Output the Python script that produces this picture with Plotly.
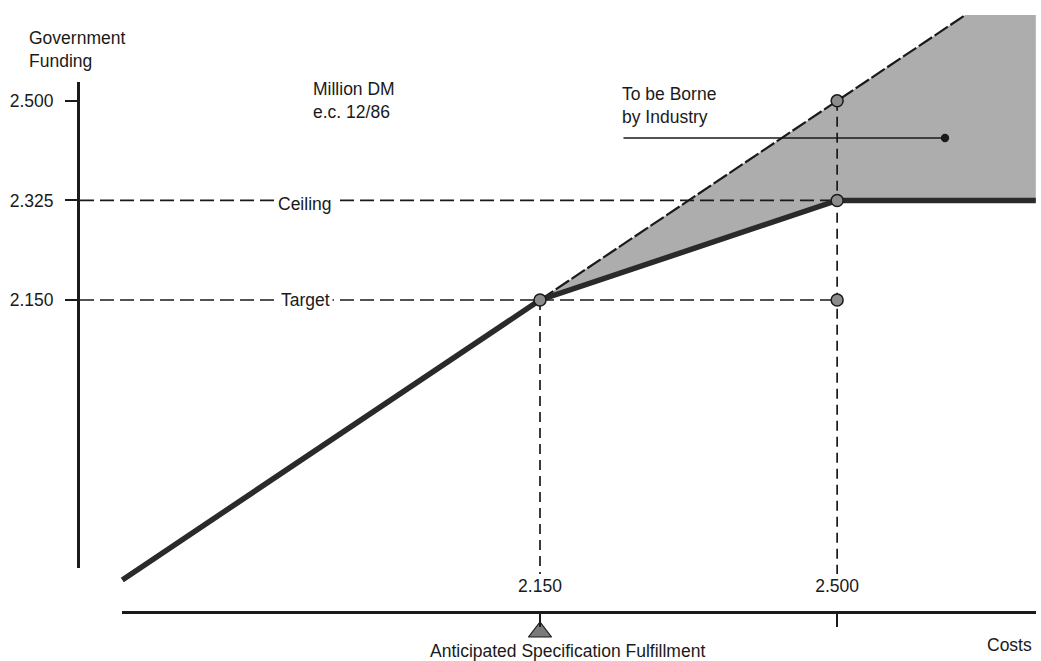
import plotly.graph_objects as go

W, H = 1041, 661

# ---- data (Million DM) ----
funding_cost = [1.658, 2.150, 2.500, 2.734]   # costs along government funding line
funding_gov = [1.658, 2.150, 2.325, 2.325]    # government funding
full_cost_x = [2.150, 2.651, 2.734]           # costs = funding diagonal (upper edge)
full_cost_y = [2.150, 2.651, 2.651]
target = 2.150
ceiling = 2.325
overrun = 2.500
point_costs = [2.150, 2.500, 2.500, 2.500]
point_funds = [2.150, 2.500, 2.325, 2.150]
y_tick_vals = [2.150, 2.325, 2.500]
y_tick_text = ["2.150", "2.325", "2.500"]
x_tick_vals = [2.150, 2.500]
x_tick_text = ["2.150", "2.500"]

# ---- pixel <-> data mapping (layout helpers) ----
X0PX, XSCALE = 540, 849
Y0PX, YSCALE = 300, 569
def X(px): return target + (px - X0PX) / XSCALE
def Y(py): return target + (Y0PX - py) / YSCALE

INK = "#1a1a1a"
FONT = "Liberation Sans, Arial, Helvetica, sans-serif"
FS = 17.5

fig = go.Figure()

# shaded area: to be borne by industry
shade_x = full_cost_x + funding_cost[:0:-1]
shade_y = full_cost_y + funding_gov[:0:-1]
fig.add_trace(go.Scatter(x=shade_x, y=shade_y, fill="toself", mode="lines",
                         fillcolor="#adadad", line=dict(width=0),
                         hoverinfo="skip", showlegend=False))
# upper edge (costs line)
fig.add_trace(go.Scatter(x=full_cost_x[:2], y=full_cost_y[:2], mode="lines",
                         line=dict(color=INK, width=2.2, dash="16px,3px"),
                         hoverinfo="skip", showlegend=False))

# dashed reference lines
dash_h = dict(color=INK, width=1.7, dash="14px,6px")
dash_v = dict(color=INK, width=1.7, dash="10px,6px")
for yv in [ceiling, target]:
    fig.add_trace(go.Scatter(x=[X(80), overrun], y=[yv, yv], mode="lines",
                             line=dash_h, hoverinfo="skip", showlegend=False))
fig.add_trace(go.Scatter(x=[target, target], y=[target, Y(574)], mode="lines",
                         line=dash_v, hoverinfo="skip", showlegend=False))
fig.add_trace(go.Scatter(x=[overrun, overrun], y=[overrun, Y(574)], mode="lines",
                         line=dash_v, hoverinfo="skip", showlegend=False))

# government funding line
fig.add_trace(go.Scatter(x=funding_cost, y=funding_gov, mode="lines",
                         line=dict(color="#2a2a2a", width=5.5),
                         hoverinfo="skip", showlegend=False))

# points
fig.add_trace(go.Scatter(x=point_costs, y=point_funds, mode="markers",
                         marker=dict(size=12, color="#8c8c8c",
                                     line=dict(color=INK, width=1.5)),
                         hoverinfo="skip", showlegend=False))

# anticipated specification fulfillment arrow
fig.add_trace(go.Scatter(x=[target], y=[Y(632)], mode="markers",
                         marker=dict(symbol="triangle-up", size=20, color="#7a7a7a",
                                     line=dict(color=INK, width=1.2)),
                         hoverinfo="skip", showlegend=False))

# dummy invisible trace to activate the display axes
fig.add_trace(go.Scatter(x=[target], y=[target], xaxis="x2", yaxis="y2",
                         mode="markers", marker=dict(opacity=0),
                         hoverinfo="skip", showlegend=False))

ann = []
def label(text, px, py, xanchor="left", yanchor="middle", bg=None, size=FS):
    d = dict(text=text, x=px / W, y=1 - py / H, xref="paper", yref="paper",
             xanchor=xanchor, yanchor=yanchor, showarrow=False, align="left",
             font=dict(family=FONT, size=size, color=INK))
    if bg:
        d.update(bgcolor=bg, borderpad=2)
    ann.append(d)

label("Government<br>Funding", 27, 49)
label("Million DM<br>e.c. 12/86", 311, 100)
label("To be Borne<br>by Industry", 620, 105)
label("Costs", 1034, 645, xanchor="right")
label("Anticipated Specification Fulfillment", 428, 651)
label("Ceiling", 305, 204, xanchor="center", bg="white")
label("Target", 305, 300, xanchor="center", bg="white")

ann.append(dict(x=X(945), y=Y(138), ax=X(622), ay=Y(138), xref="x", yref="y",
                axref="x", ayref="y", text="", showarrow=True, arrowhead=6,
                arrowsize=1.3, arrowwidth=1.6, arrowcolor=INK, standoff=0))

fig.update_layout(
    width=W, height=H,
    margin=dict(l=0, r=0, t=0, b=0),
    paper_bgcolor="white", plot_bgcolor="rgba(0,0,0,0)",
    showlegend=False,
    annotations=ann,
    font=dict(family=FONT, size=FS, color=INK),
    xaxis=dict(domain=[0, 1], range=[X(0), X(W)], visible=False, fixedrange=True),
    yaxis=dict(domain=[0, 1], range=[Y(H), Y(0)], visible=False, fixedrange=True),
    xaxis2=dict(domain=[122 / W, 1036 / W], range=[X(122), X(1036)],
                anchor="free", position=(H - 612) / H, side="top",
                showline=True, linecolor=INK, linewidth=3,
                showgrid=False, zeroline=False,
                tickmode="array", tickvals=x_tick_vals, ticktext=x_tick_text,
                ticks="inside", ticklen=13, tickwidth=1.6, tickcolor=INK,
                ticklabelstandoff=12,
                tickfont=dict(family=FONT, size=FS, color=INK)),
    yaxis2=dict(domain=[(H - 568) / H, (H - 82) / H], range=[Y(568), Y(82)],
                anchor="free", position=78 / W, side="left",
                showline=True, linecolor=INK, linewidth=3,
                showgrid=False, zeroline=False,
                tickmode="array", tickvals=y_tick_vals, ticktext=y_tick_text,
                ticks="outside", ticklen=12, tickwidth=1.6, tickcolor=INK,
                ticklabelstandoff=8,
                tickfont=dict(family=FONT, size=FS, color=INK)),
)

fig.write_html("out.html",
               config={"displayModeBar": False},
               post_script="document.body.style.margin='0';"
                           "document.body.style.overflow='hidden';")
